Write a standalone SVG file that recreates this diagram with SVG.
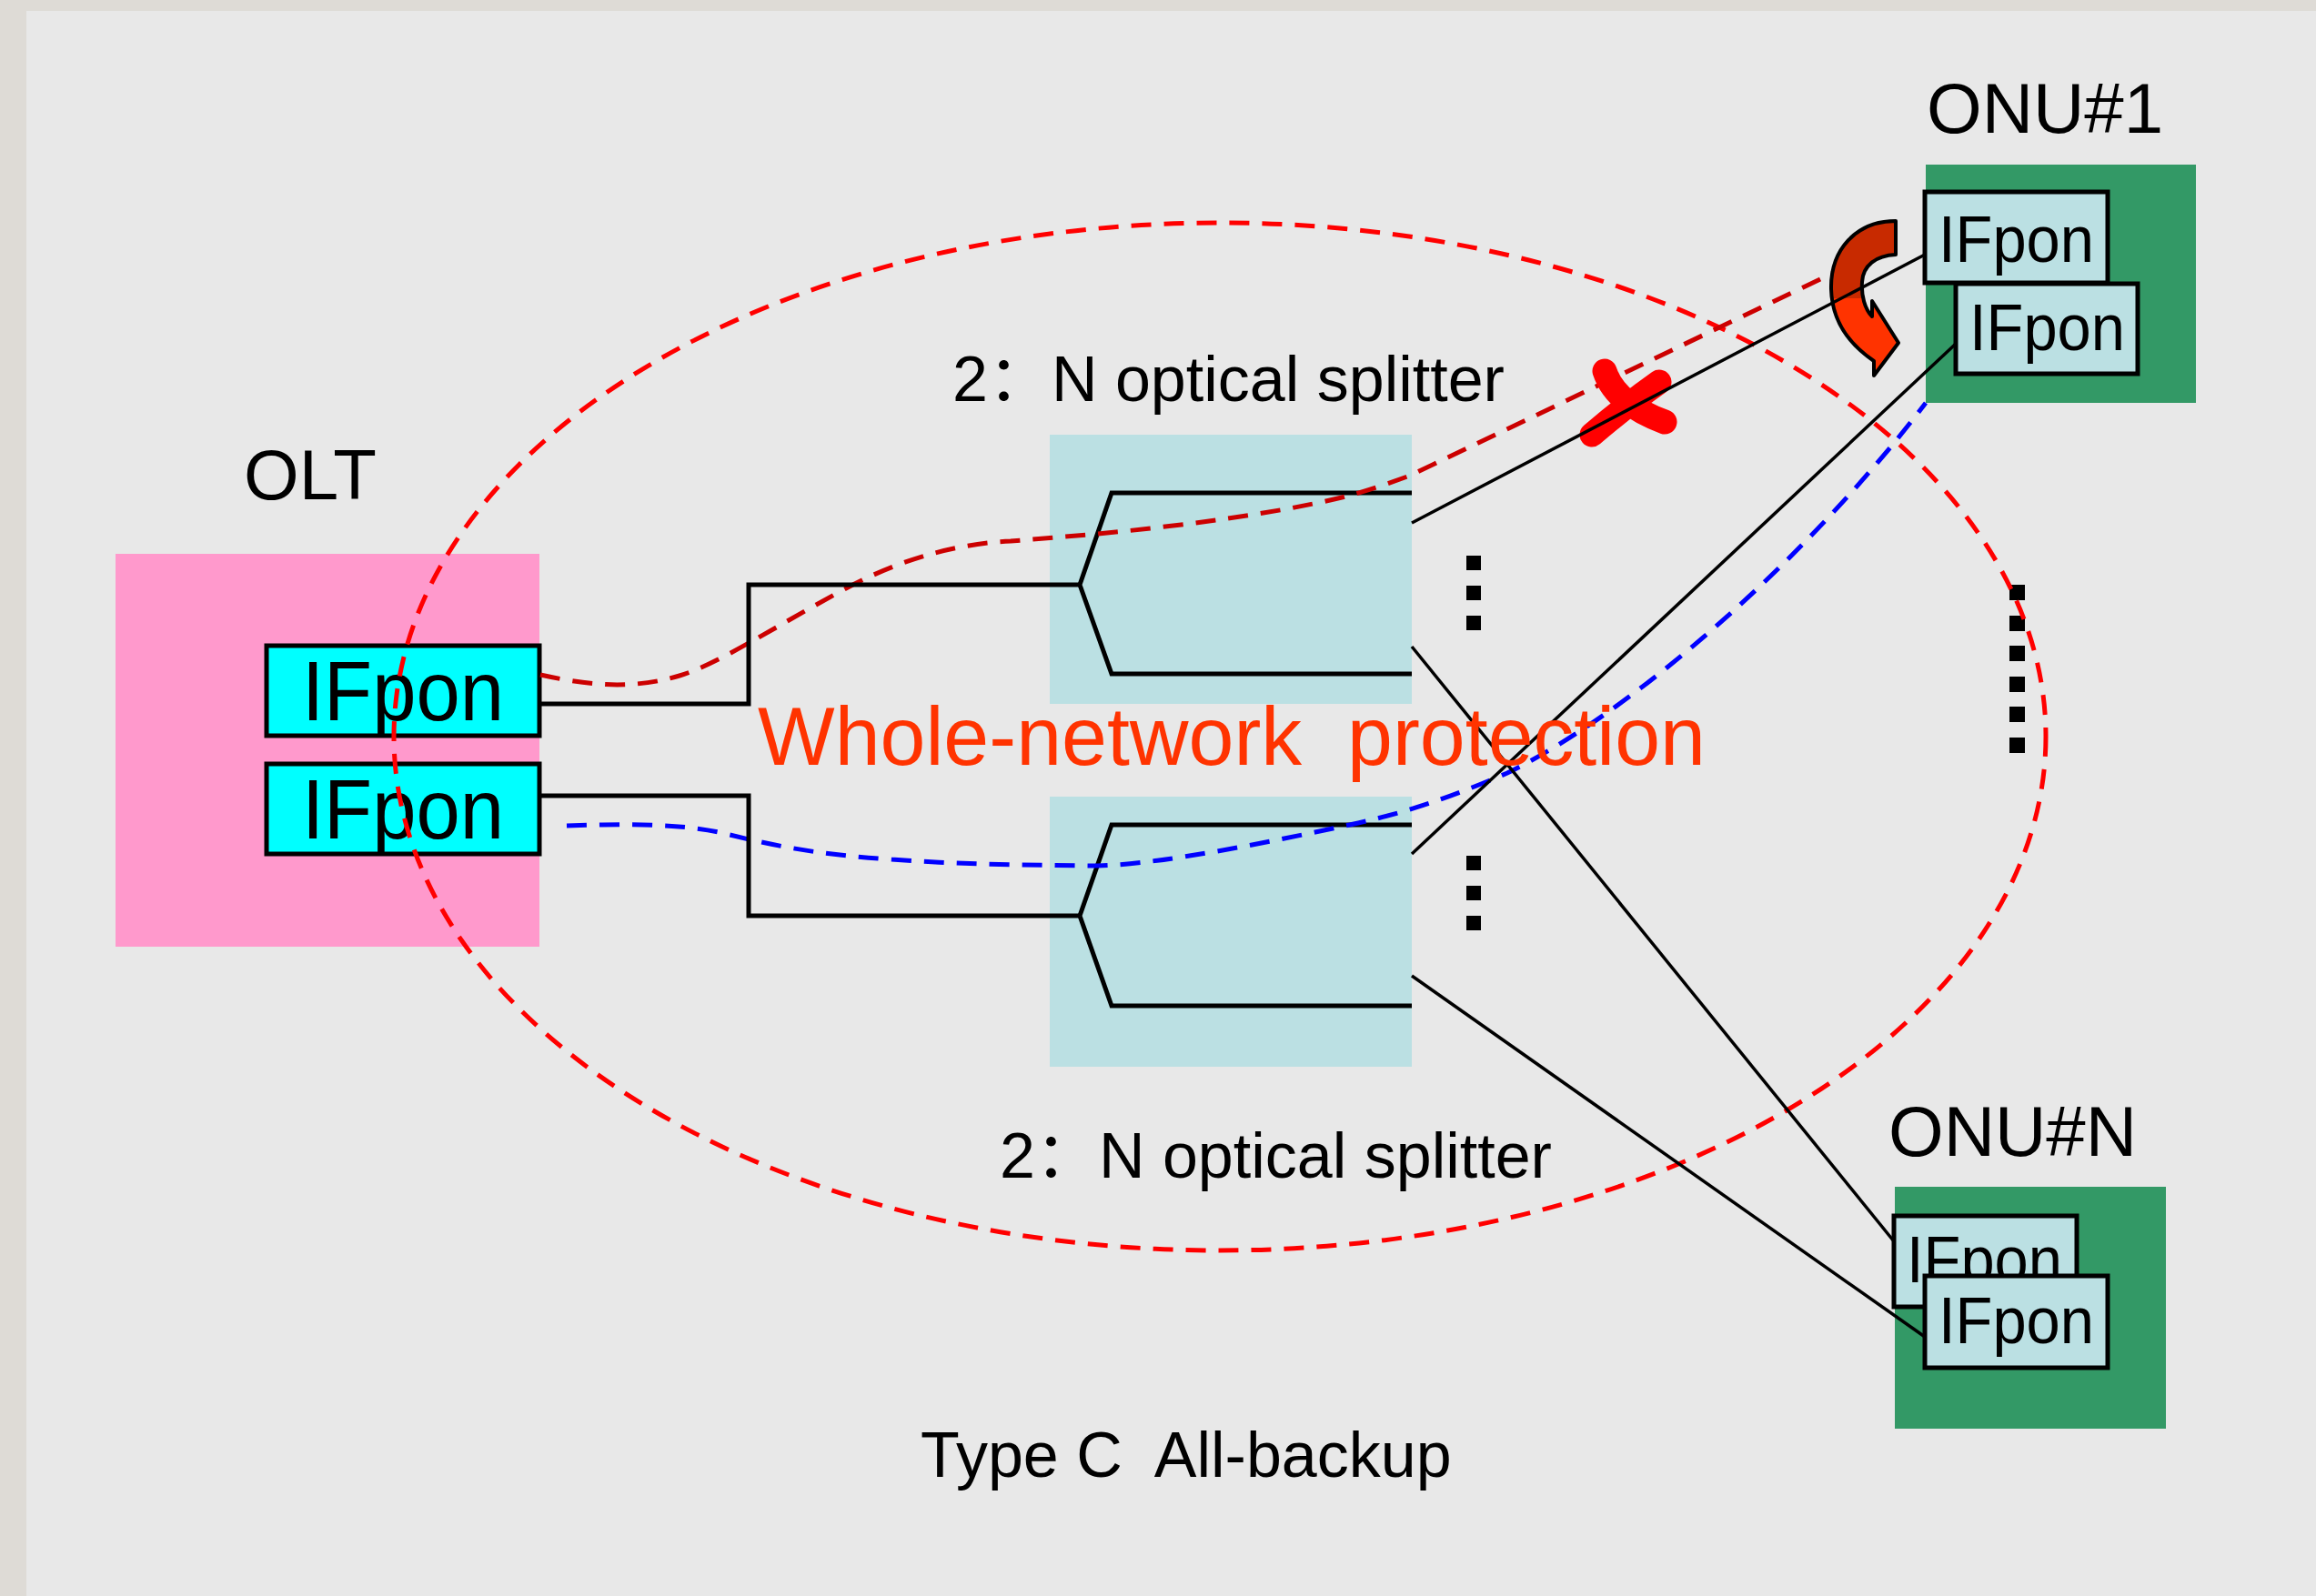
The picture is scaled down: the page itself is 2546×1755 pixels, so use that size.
<svg xmlns="http://www.w3.org/2000/svg" width="2546" height="1755" viewBox="0 0 2546 1755">
<defs>
<style>
.lbl{font-family:"Liberation Sans",Arial,"Noto Sans CJK SC",sans-serif;fill:#000}
.blk{stroke:#000;stroke-width:5;fill:none}
.thin{stroke:#000;stroke-width:3.5;fill:none}
.ifo{fill:#00ffff;stroke:#000;stroke-width:5}
.ifn{fill:#bbe0e3;stroke:#000;stroke-width:5}
.spl{fill:#bbe0e3}
.onu{fill:#339966}
.dot{fill:#000}
.dash{fill:none;stroke-width:5;stroke-dasharray:22 14}
</style>
<linearGradient id="arrowFill" x1="0" y1="0" x2="0" y2="1">
<stop offset="0" stop-color="#c82a00"/>
<stop offset="0.5" stop-color="#c82a00"/>
<stop offset="0.5" stop-color="#ff3300"/>
<stop offset="1" stop-color="#ff3300"/>
</linearGradient>
</defs>
<rect x="0" y="0" width="2546" height="1755" fill="#dedbd6"/>
<rect x="29" y="12" width="2517" height="1743" fill="#e8e8e8"/>

<g id="olt">
<rect x="127" y="609" width="466" height="432" fill="#ff99cc"/>
<text class="lbl" x="268" y="549" font-size="78">OLT</text>
<rect class="ifo" x="293" y="710" width="300" height="99"/>
<text class="lbl" x="332" y="792" font-size="92" textLength="222" lengthAdjust="spacingAndGlyphs">IFpon</text>
<rect class="ifo" x="293" y="840" width="300" height="99"/>
<text class="lbl" x="332" y="922" font-size="92" textLength="222" lengthAdjust="spacingAndGlyphs">IFpon</text>
</g>

<g id="splitter1">
<rect class="spl" x="1154" y="478" width="398" height="296"/>
<path class="blk" d="M1187 643 L1222 542 L1552 542 M1187 643 L1222 741 L1552 741"/>
<text class="lbl" x="1047" y="441" font-size="70">2：N optical splitter</text>
</g>

<g id="splitter2">
<rect class="spl" x="1154" y="876" width="398" height="297"/>
<path class="blk" d="M1187 1007 L1222 907 L1552 907 M1187 1007 L1222 1106 L1552 1106"/>
<text class="lbl" x="1099" y="1295" font-size="70">2：N optical splitter</text>
</g>

<g id="onu1">
<text class="lbl" x="2118" y="146" font-size="78">ONU#1</text>
<rect class="onu" x="2117" y="181" width="297" height="262"/>
<rect class="ifn" x="2116" y="211" width="201" height="100"/>
<text class="lbl" x="2131" y="288" font-size="72" textLength="171" lengthAdjust="spacingAndGlyphs">IFpon</text>
<rect class="ifn" x="2150" y="312" width="200" height="99"/>
<text class="lbl" x="2165" y="385" font-size="72" textLength="171" lengthAdjust="spacingAndGlyphs">IFpon</text>
</g>

<g id="onuN">
<text class="lbl" x="2076" y="1271" font-size="78">ONU#N</text>
<rect class="onu" x="2083" y="1305" width="298" height="266"/>
<rect class="ifn" x="2082" y="1337" width="201" height="100"/>
<text class="lbl" x="2096" y="1410" font-size="72" textLength="171" lengthAdjust="spacingAndGlyphs">IFpon</text>
<rect class="ifn" x="2116" y="1403" width="201" height="101"/>
<text class="lbl" x="2131" y="1477" font-size="72" textLength="171" lengthAdjust="spacingAndGlyphs">IFpon</text>
</g>

<g id="dots">
<rect class="dot" x="1612" y="611" width="16" height="16"/>
<rect class="dot" x="1612" y="644" width="16" height="16"/>
<rect class="dot" x="1612" y="677" width="16" height="16"/>
<rect class="dot" x="1612" y="941" width="16" height="16"/>
<rect class="dot" x="1612" y="974" width="16" height="16"/>
<rect class="dot" x="1612" y="1007" width="16" height="16"/>
<rect class="dot" x="2209" y="643" width="17" height="17"/>
<rect class="dot" x="2209" y="677" width="17" height="17"/>
<rect class="dot" x="2209" y="710" width="17" height="17"/>
<rect class="dot" x="2209" y="744" width="17" height="17"/>
<rect class="dot" x="2209" y="777" width="17" height="17"/>
<rect class="dot" x="2209" y="811" width="17" height="17"/>
</g>

<g id="protection">
<ellipse class="dash" cx="1341" cy="810" rx="908" ry="565" stroke="#ff0000"/>
<path class="dash" d="M594 742 C640 752 690 760 747 743 C790 730 850 690 930 647 C990 615 1050 598 1111 595 L1207 587 C1300 578 1400 565 1475 547 C1510 538 1530 530 1550 523 L2028 294" stroke="#cc0000"/>
<path class="dash" d="M623 908 C680 906 740 905 790 915 C850 930 900 940 980 945 C1050 950 1100 951 1207 952 C1280 950 1400 925 1493 905 C1560 890 1610 870 1657 850 C1800 780 1990 610 2117 443" stroke="#0000ff"/>
<path d="M2084 243 C2040 243 2012 275 2013 318 C2014 355 2035 380 2060 397 L2060 413 L2087 377 L2058 331 L2058 348 C2050 340 2046 325 2047 310 C2048 292 2062 281 2084 280 Z" fill="url(#arrowFill)" stroke="#000" stroke-width="4" stroke-linejoin="round"/>
<path d="M1764 408 Q1776 444 1830 464 M1824 420 Q1790 444 1750 478" fill="none" stroke="#ff0000" stroke-width="27" stroke-linecap="round"/>
</g>

<g id="connectors">
<path class="blk" d="M593 774 L823 774 L823 643 L1187 643"/>
<path class="blk" d="M593 875 L823 875 L823 1007 L1187 1007"/>
<path class="thin" d="M1552 575 L2116 280"/>
<path class="thin" d="M1552 711 L2082 1365"/>
<path class="thin" d="M1552 939 L2150 378"/>
<path class="thin" d="M1552 1073 L2116 1470"/>
</g>

<text x="833" y="841" font-family="Liberation Sans, Arial, sans-serif" font-size="91" fill="#ff3300" textLength="1042" lengthAdjust="spacingAndGlyphs" xml:space="preserve">Whole-network  protection</text>
<text class="lbl" x="1012" y="1624" font-size="70" xml:space="preserve">Type C  All-backup</text>
</svg>
